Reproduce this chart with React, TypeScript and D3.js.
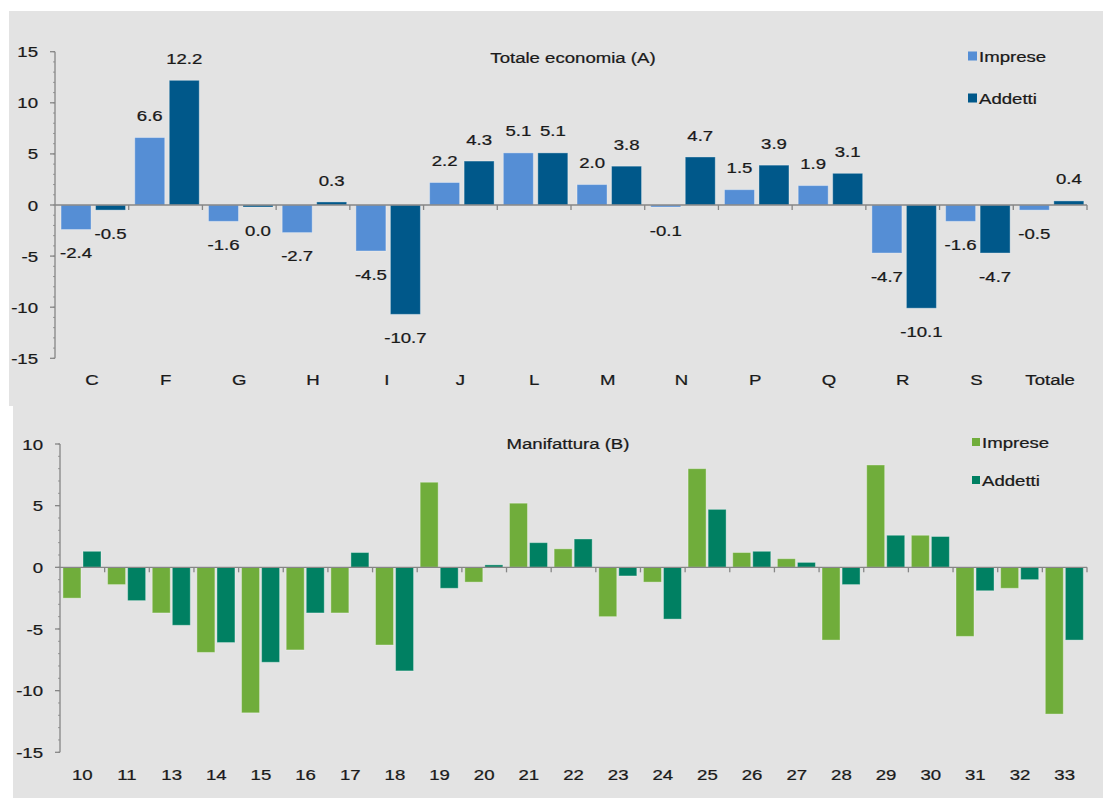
import React from "react";
import * as d3 from "d3";

const catsA = ["C", "F", "G", "H", "I", "J", "L", "M", "N", "P", "Q", "R", "S", "Totale"];
const impreseA = [-2.4, 6.6, -1.6, -2.7, -4.5, 2.2, 5.1, 2.0, -0.1, 1.5, 1.9, -4.7, -1.6, -0.5];
const addettiA = [-0.5, 12.2, -0.04, 0.3, -10.7, 4.3, 5.1, 3.8, 4.7, 3.9, 3.1, -10.1, -4.7, 0.4];
const ticksA = [15, 10, 5, 0, -5, -10, -15];

const catsB = ["10", "11", "13", "14", "15", "16", "17", "18", "19", "20", "21", "22", "23", "24", "25", "26", "27", "28", "29", "30", "31", "32", "33"];
const impreseB = [-2.5, -1.4, -3.7, -6.9, -11.8, -6.7, -3.7, -6.3, 6.9, -1.2, 5.2, 1.5, -4.0, -1.2, 8.0, 1.2, 0.7, -5.9, 8.3, 2.6, -5.6, -1.7, -11.9];
const addettiB = [1.3, -2.7, -4.7, -6.1, -7.7, -3.7, 1.2, -8.4, -1.7, 0.2, 2.0, 2.3, -0.7, -4.2, 4.7, 1.3, 0.4, -1.4, 2.6, 2.5, -1.9, -1.0, -5.9];
const ticksB = [10, 5, 0, -5, -10, -15];

const seriesNames = ["Imprese", "Addetti"];

const FS = 15.5;
const SX = 1.2;
const FONT = "'Liberation Sans', Arial, sans-serif";
const TXT = "#1a1a1a";
const AXIS = "#868686";

function T({ x, y, anchor = "middle", children, size = FS }: any) {
  return (
    <text
      transform={`translate(${x},${y}) scale(${SX},1)`}
      textAnchor={anchor}
      fontFamily={FONT}
      fontSize={size}
      fill={TXT}
      stroke={TXT}
      strokeWidth={0.25}
    >
      {children}
    </text>
  );
}

const fmt = (v: number) => (Math.abs(v) < 0.05 ? 0 : v).toFixed(1);

function Panel(props: any) {
  const {
    cats, s1, s2, ticks, domain, yRange, xRange, colors, off1, off2, bw,
    title, titleX, titleY, legX, legY, legGap, legSq, catY, tickLabelX, showLabels,
  } = props;
  const y = d3.scaleLinear().domain(domain).range(yRange);
  const x = d3.scaleBand<string>().domain(cats).range(xRange).paddingInner(0).paddingOuter(0);
  const bandW = x.bandwidth();
  const y0 = y(0);
  const mid = 0.36 * FS;

  const bar = (v: number, i: number, k: number) => {
    const c = cats[i];
    const bx = (x(c) as number) + (k === 0 ? off1 : off2) * bandW;
    const w = bw * bandW;
    const yv = y(v);
    let top = Math.min(yv, y0);
    let h = Math.abs(yv - y0);
    if (h < 2) {
      h = 2;
      top = v < 0 ? y0 : y0 - 2;
    }
    return (
      <g key={`${k}-${i}`}>
        <rect x={bx} y={top} width={w} height={h} fill={colors[k]} stroke="rgba(255,255,255,0.35)" strokeWidth={1} />
        {showLabels && (
          <T x={bx + w / 2} y={v >= 0 ? top - 22 + mid : top + h + 23 + mid}>
            {fmt(v)}
          </T>
        )}
      </g>
    );
  };

  const minor = d3.range(domain[0], domain[1] + 0.001, 1);

  return (
    <g>
      <line x1={xRange[0]} x2={xRange[0]} y1={yRange[0]} y2={yRange[1]} stroke={AXIS} strokeWidth={1.3} />
      {minor.map((t: number) => (
        <line key={"m" + t} x1={xRange[0] - 2} x2={xRange[0]} y1={y(t)} y2={y(t)} stroke={AXIS} strokeWidth={0.8} />
      ))}
      {ticks.map((t: number) => (
        <g key={"t" + t}>
          <line x1={xRange[0] - 5} x2={xRange[0]} y1={y(t)} y2={y(t)} stroke={AXIS} strokeWidth={1.3} />
          <T x={tickLabelX} y={y(t) + mid} anchor="end">{String(t)}</T>
        </g>
      ))}
      {s1.map((v: number, i: number) => bar(v, i, 0))}
      {s2.map((v: number, i: number) => bar(v, i, 1))}
      <line x1={xRange[0]} x2={xRange[1]} y1={y0} y2={y0} stroke={AXIS} strokeWidth={1.3} />
      {cats.map((c: string, i: number) => (
        <line key={"xt" + i} x1={(x(c) as number) + bandW} x2={(x(c) as number) + bandW} y1={y0} y2={y0 + 5} stroke={AXIS} strokeWidth={1.3} />
      ))}
      {cats.map((c: string) => (
        <T key={"c" + c} x={(x(c) as number) + bandW / 2} y={catY + mid}>{c}</T>
      ))}
      <T x={titleX} y={titleY + mid}>{title}</T>
      {seriesNames.map((n: string, k: number) => (
        <g key={"l" + n}>
          <rect x={legX} y={legY + k * legGap - legSq / 2} width={legSq} height={legSq} fill={colors[k]} />
          <T x={legX + legSq + 2} y={legY + k * legGap + mid} anchor="start">{n}</T>
        </g>
      ))}
    </g>
  );
}

export default function App() {
  return (
    <div style={{ position: "absolute", left: 0, top: 0 }}>
      <svg width={1103} height={798} style={{ display: "block" }}>
        <rect x={0} y={0} width={1103} height={798} fill="#ffffff" />
        <rect x={9} y={11} width={1094} height={395} fill="#e3e3e3" />
        <rect x={13} y={405} width={1090} height={393} fill="#e3e3e3" />
        <Panel
          cats={catsA}
          s1={impreseA}
          s2={addettiA}
          ticks={ticksA}
          domain={[-15, 15]}
          yRange={[358.3, 51.7]}
          xRange={[55, 1087]}
          colors={["#558ed5", "#00588a"]}
          off1={0.082}
          off2={0.55}
          bw={0.407}
          title="Totale economia (A)"
          titleX={573}
          titleY={57}
          legX={968}
          legY={56}
          legGap={42}
          legSq={9}
          catY={379}
          tickLabelX={38}
          showLabels={true}
        />
        <Panel
          cats={catsB}
          s1={impreseB}
          s2={addettiB}
          ticks={ticksB}
          domain={[-15, 10]}
          yRange={[752.3, 444]}
          xRange={[60, 1087]}
          colors={["#70ad3b", "#008062"]}
          off1={0.066}
          off2={0.515}
          bw={0.403}
          title="Manifattura (B)"
          titleX={568}
          titleY={443}
          legX={972}
          legY={442}
          legGap={38}
          legSq={8}
          catY={774}
          tickLabelX={43}
          showLabels={false}
        />
      </svg>
    </div>
  );
}
